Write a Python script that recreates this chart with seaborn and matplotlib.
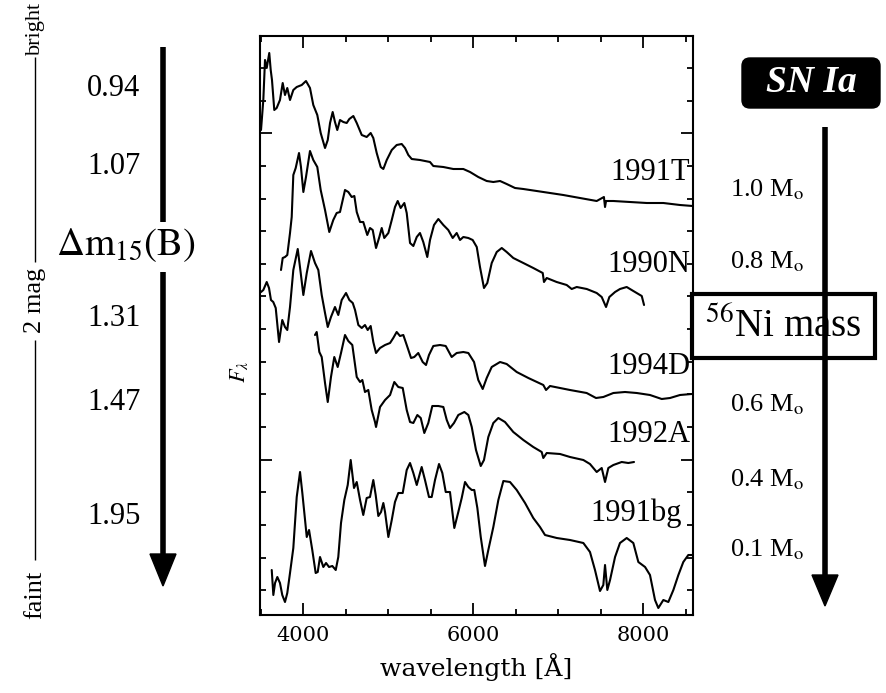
import numpy as np
import pandas as pd
import matplotlib
matplotlib.use("Agg")
import matplotlib.pyplot as plt
import seaborn as sns
from matplotlib.lines import Line2D
from matplotlib.patches import Polygon, Rectangle, FancyBboxPatch
from matplotlib.ticker import FixedLocator, MultipleLocator, NullFormatter
from matplotlib.transforms import IdentityTransform

# ---------------------------------------------------------------------------
# Spectra (wavelength in Angstrom, F_lambda in arbitrary offset units)
# ---------------------------------------------------------------------------
wl_1991T = [3506, 3533, 3553, 3573, 3603, 3620, 3635, 3662, 3690, 3729, 3761, 3788,
            3815, 3847, 3886, 3926, 3985, 4035, 4082, 4121, 4168, 4208, 4259, 4291,
            4318, 4349, 4376, 4403, 4435, 4474, 4514, 4545, 4592, 4632, 4691, 4749,
            4796, 4827, 4867, 4914, 4945, 4985, 5044, 5102, 5161, 5200, 5239, 5279,
            5376, 5494, 5533, 5651, 5768, 5886, 5965, 6062, 6161, 6239, 6318, 6396,
            6494, 6592, 6749, 6906, 7062, 7258, 7455, 7540, 7553, 7565, 7651, 7847,
            8044, 8239, 8435, 8585]
fl_1991T = [485, 515, 555, 547, 562, 545, 535, 505, 507, 515, 532, 520,
            527, 515, 525, 528, 530, 534, 527, 510, 500, 482, 467, 475,
            492, 503, 493, 485, 495, 493, 492, 496, 499, 492, 480, 478,
            482, 477, 462, 448, 446, 455, 465, 470, 471, 467, 460, 456,
            455, 453, 449, 448, 446, 446, 443, 438, 434, 433, 434, 431,
            427, 426, 424, 422, 420, 417, 414, 418, 408, 414, 414, 413,
            412, 412, 410, 409]

wl_1990N = [3741, 3761, 3788, 3815, 3847, 3867, 3886, 3914, 3953, 3976, 4004, 4035,
            4082, 4121, 4168, 4208, 4259, 4309, 4356, 4396, 4435, 4494, 4533, 4573,
            4604, 4632, 4671, 4709, 4756, 4788, 4820, 4859, 4898, 4926, 4956, 5004,
            5044, 5082, 5114, 5149, 5192, 5220, 5259, 5298, 5338, 5376, 5415, 5462,
            5494, 5541, 5592, 5651, 5709, 5761, 5808, 5847, 5886, 5945, 5996, 6044,
            6082, 6129, 6168, 6220, 6279, 6338, 6396, 6474, 6592, 6709, 6820, 6835,
            6867, 6984, 7102, 7161, 7220, 7338, 7455, 7514, 7565, 7604, 7671, 7729,
            7808, 7886, 7985, 8012]
fl_1990N = [345, 357, 358, 360, 382, 398, 440, 447, 462, 448, 423, 438,
            464, 455, 448, 425, 405, 383, 395, 402, 403, 425, 423, 418,
            419, 403, 393, 393, 380, 387, 385, 367, 378, 387, 377, 382,
            395, 408, 414, 407, 412, 402, 372, 369, 378, 382, 373, 358,
            375, 390, 396, 390, 385, 377, 382, 375, 378, 377, 375, 368,
            348, 327, 332, 352, 363, 367, 363, 357, 352, 347, 342, 333,
            337, 333, 330, 326, 328, 326, 322, 318, 308, 318, 323, 326,
            328, 324, 319, 310]

wl_1994D = [3506, 3533, 3573, 3600, 3623, 3650, 3679, 3718, 3756, 3788, 3815, 3847,
            3886, 3938, 3973, 4004, 4044, 4094, 4141, 4180, 4220, 4259, 4291, 4329,
            4376, 4415, 4455, 4506, 4545, 4585, 4612, 4651, 4691, 4729, 4761, 4796,
            4827, 4859, 4906, 4965, 5024, 5062, 5102, 5141, 5180, 5220, 5271, 5309,
            5356, 5408, 5447, 5482, 5533, 5612, 5679, 5749, 5808, 5886, 5945, 6012,
            6062, 6114, 6161, 6220, 6318, 6396, 6514, 6651, 6827, 6859, 6906, 7141,
            7337, 7447, 7533, 7651, 7788, 7926, 8082, 8220, 8318, 8435, 8573]
fl_1994D = [323, 325, 333, 327, 315, 313, 307, 273, 295, 288, 285, 308,
            345, 366, 342, 320, 342, 364, 352, 345, 320, 302, 288, 298,
            308, 300, 315, 322, 315, 312, 305, 290, 287, 290, 285, 289,
            273, 262, 267, 270, 272, 277, 283, 279, 280, 270, 257, 258,
            262, 253, 250, 260, 269, 270, 269, 258, 262, 263, 262, 253,
            235, 226, 237, 248, 253, 251, 243, 237, 230, 225, 229, 225,
            222, 217, 218, 222, 223, 222, 220, 216, 217, 220, 221]

wl_1992A = [4141, 4161, 4192, 4220, 4259, 4291, 4329, 4368, 4408, 4447, 4494, 4533,
            4580, 4632, 4671, 4698, 4729, 4768, 4808, 4847, 4859, 4906, 4965, 5024,
            5074, 5121, 5173, 5220, 5259, 5298, 5345, 5385, 5427, 5474, 5521, 5592,
            5651, 5691, 5729, 5776, 5827, 5898, 5945, 5985, 6035, 6091, 6129, 6180,
            6239, 6298, 6376, 6474, 6592, 6709, 6808, 6827, 6867, 7024, 7141, 7298,
            7376, 7455, 7514, 7553, 7592, 7651, 7749, 7827, 7894]
fl_1992A = [280, 283, 263, 258, 232, 213, 238, 258, 248, 262, 280, 274,
            270, 238, 233, 235, 223, 225, 205, 193, 188, 208, 215, 220,
            233, 228, 227, 205, 193, 192, 200, 197, 182, 192, 209, 209,
            208, 195, 187, 192, 200, 203, 200, 188, 165, 149, 155, 178,
            192, 197, 193, 183, 175, 168, 163, 157, 162, 161, 158, 155,
            151, 143, 147, 133, 147, 150, 153, 152, 153]

wl_1991bg = [3632, 3651, 3671, 3698, 3729, 3756, 3788, 3815, 3847, 3886, 3926, 3965,
             3992, 4024, 4044, 4071, 4109, 4149, 4173, 4200, 4239, 4271, 4306, 4345,
             4385, 4415, 4447, 4486, 4526, 4561, 4600, 4632, 4671, 4709, 4749, 4788,
             4827, 4855, 4886, 4918, 4945, 4965, 5004, 5044, 5082, 5121, 5173, 5220,
             5259, 5298, 5338, 5396, 5435, 5482, 5514, 5553, 5600, 5639, 5679, 5729,
             5780, 5827, 5867, 5906, 5945, 5985, 6015, 6051, 6091, 6141, 6180, 6239,
             6298, 6357, 6435, 6514, 6612, 6709, 6788, 6847, 6985, 7141, 7298, 7376,
             7435, 7494, 7533, 7553, 7580, 7612, 7671, 7729, 7808, 7886, 7945, 8024,
             8082, 8141, 8180, 8239, 8298, 8357, 8416, 8474, 8533, 8585]
fl_1991bg = [45, 20, 32, 38, 32, 20, 13, 22, 42, 67, 118, 143,
             122, 95, 78, 85, 65, 42, 43, 58, 48, 52, 48, 49,
             45, 58, 92, 115, 130, 155, 127, 133, 115, 100, 117, 118,
             135, 120, 99, 103, 112, 103, 78, 95, 113, 122, 122, 145,
             152, 142, 130, 148, 135, 118, 118, 135, 151, 142, 123, 123,
             87, 103, 117, 133, 128, 125, 125, 107, 78, 49, 65, 88,
             115, 134, 133, 125, 112, 97, 88, 80, 77, 75, 72, 63,
             45, 24, 30, 50, 25, 35, 58, 72, 77, 72, 53, 48,
             40, 15, 7, 15, 13, 25, 40, 53, 60, 60]

sn_names = ["1991T", "1990N", "1994D", "1992A", "1991bg"]
dm15_values = ["0.94", "1.07", "1.31", "1.47", "1.95"]
ni_masses = ["1.0", "0.8", "0.6", "0.4", "0.1"]

spectra = [(wl_1991T, fl_1991T), (wl_1990N, fl_1990N), (wl_1994D, fl_1994D),
           (wl_1992A, fl_1992A), (wl_1991bg, fl_1991bg)]
df = pd.concat(
    [pd.DataFrame({"wavelength": w, "flux": f, "sn": name})
     for name, (w, f) in zip(sn_names, spectra)],
    ignore_index=True,
)

# ---------------------------------------------------------------------------
# Style
# ---------------------------------------------------------------------------
sns.set_theme(style="ticks", rc={
    "text.color": "black", "axes.labelcolor": "black",
    "xtick.color": "black", "ytick.color": "black",
    "axes.edgecolor": "black",
})
plt.rcParams["font.family"] = ["Liberation Serif", "DejaVu Serif"]
plt.rcParams["mathtext.fontset"] = "stix"

W, H = 887, 693
fig = plt.figure(figsize=(W / 100, H / 100), dpi=100)
fig.patch.set_facecolor("white")

ax = fig.add_axes([260 / W, 1 - 615 / H, 433 / W, 579 / H])
sns.lineplot(data=df, x="wavelength", y="flux", units="sn", estimator=None,
             sort=False, color="black", lw=1.5, ax=ax, legend=False)

ax.set_xlim(3494, 8588)
ax.set_ylim(0, 579)
ax.xaxis.set_major_locator(FixedLocator([4000, 6000, 8000]))
ax.xaxis.set_minor_locator(MultipleLocator(500))
ytick_pos = 24.7 + 32.65 * np.arange(17)
ax.yaxis.set_major_locator(FixedLocator(ytick_pos[[4, 14]]))
ax.yaxis.set_minor_locator(FixedLocator(ytick_pos))
ax.yaxis.set_major_formatter(NullFormatter())
ax.tick_params(which="both", direction="in", top=True, right=True,
               width=1.3, color="black", labelcolor="black")
ax.tick_params(which="major", length=8.5, pad=8)
ax.tick_params(which="minor", length=4.5)
for lab in ax.get_xticklabels():
    lab.set_family("DejaVu Serif")
    lab.set_fontsize(15)
for sp in ax.spines.values():
    sp.set_linewidth(1.5)
    sp.set_color("black")

ax.set_xlabel("wavelength [Å]", family="DejaVu Serif", fontsize=18, labelpad=6,
              color="black")
ax.set_ylabel(r"$F_\lambda$", fontsize=16, labelpad=0, color="black")
ax.yaxis.set_label_coords(-0.022, 0.42)

# supernova names next to each spectrum
name_anchor = [(8553, 443), (8553, 350), (8553, 248), (8553, 180), (8459, 102)]
for name, (x, y) in zip(sn_names, name_anchor):
    ax.text(x, y, name, ha="right", va="center", fontsize=22, color="black")

# ---------------------------------------------------------------------------
# Side annotations (placed in pixel units of the figure)
# ---------------------------------------------------------------------------
T = IdentityTransform()


def ftext(x, y, s, **kw):
    kw.setdefault("color", "black")
    fig.text(x, H - y, s, transform=T, **kw)


def fline(x0, y0, x1, y1, lw):
    fig.add_artist(Line2D([x0, x1], [H - y0, H - y1], transform=T,
                          color="black", lw=lw, solid_capstyle="butt"))


def farrowhead(xc, y_base, y_tip, half):
    fig.add_artist(Polygon([[xc - half, H - y_base], [xc + half, H - y_base],
                            [xc, H - y_tip]], closed=True, transform=T,
                           color="black"))


# brightness scale on the far left
ftext(35, 28, "bright", rotation=90, ha="center", va="center", fontsize=16)
fline(35, 57, 35, 262, 1.0)
ftext(35, 300, "2 mag", rotation=90, ha="center", va="center", fontsize=19)
fline(35, 340, 35, 560, 1.0)
ftext(35, 595, "faint", rotation=90, ha="center", va="center", fontsize=19)

# decline rate column
dm15_y = [88, 167, 318, 403, 517]
for v, y in zip(dm15_values, dm15_y):
    ftext(114, y, v, ha="center", va="center", fontsize=22)
ftext(126, 245, r"$\Delta\mathrm{m}_{15}\mathrm{(B)}$", ha="center",
      va="center", fontsize=28)
fline(163, 47, 163, 222, 4)
fline(163, 272, 163, 556, 4)
farrowhead(163, 554, 586, 13)

# nickel mass column
fline(825, 127, 825, 577, 4)
farrowhead(825, 575, 606, 13)
ni_y = [190, 262, 405, 480, 550]
for v, y in zip(ni_masses, ni_y):
    ftext(730, y, v + r" M$_\mathrm{o}$", ha="left", va="center", fontsize=19)

fig.add_artist(Rectangle((692, H - 358), 183, 64, transform=T, fc="white",
                         ec="black", lw=3))
ftext(783, 327, r"$^{56}$Ni mass", ha="center", va="center", fontsize=28)

fig.add_artist(FancyBboxPatch((742, H - 108), 138, 50,
                              boxstyle="round,pad=0,rounding_size=8",
                              transform=T, fc="black", ec="black"))
ftext(811, 83, "SN Ia", ha="center", va="center", fontsize=27,
      weight="bold", style="italic", color="white")

fig.savefig("out.png", dpi=100)
